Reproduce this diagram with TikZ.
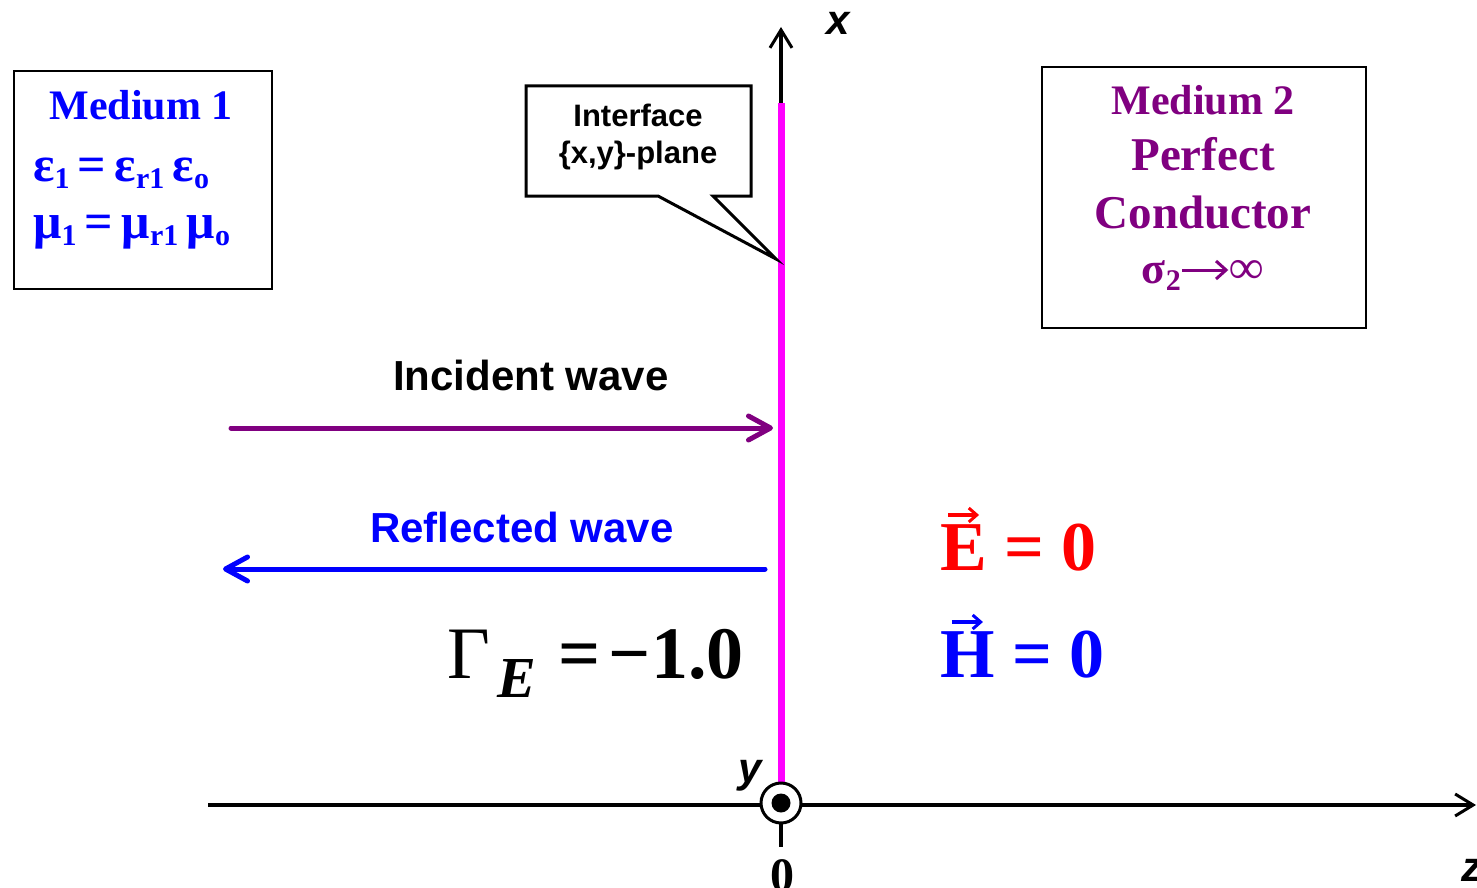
\documentclass[tikz,border=0pt]{standalone}
\usepackage{fontspec}
\setmainfont{Liberation Serif}
\setsansfont{Liberation Sans}
\usetikzlibrary{arrows.meta}
\definecolor{mblue}{RGB}{0,0,255}
\definecolor{mpurple}{RGB}{128,0,128}
\definecolor{mmag}{RGB}{255,0,255}
\definecolor{mred}{RGB}{255,0,0}
\newcommand{\fs}[1]{\fontsize{#1}{#1}\selectfont}
\newcommand{\mysub}[2][30]{{\fs{#1}\raisebox{-7pt}{#2}}}
\newsavebox{\myvbox}
\newcommand{\vecl}[2]{\sbox\myvbox{#2}\rlap{\makebox[\wd\myvbox][c]{\tikz[baseline=0pt]\draw[#1, line width=3.5pt,-{Straight Barb[length=8pt,width=14pt,line width=3pt]}] (0pt,55pt) -- (31pt,55pt);}}\usebox\myvbox}
\newcommand{\longarr}[1]{\tikz[baseline=0pt]\draw[#1, line width=3pt,-{Straight Barb[length=10pt,width=18pt,line width=3pt]}] (0pt,13pt) -- (46pt,13pt);}
\tikzset{
  box/.style={draw=black, line width=2pt, fill=white, inner sep=0pt},
  serifb/.style={font=\bfseries\fs{42}, inner sep=0pt},
  sansb/.style={font=\sffamily\bfseries\fs{42}, inner sep=0pt},
  axlab/.style={font=\sffamily\bfseries\itshape\fs{42}, inner sep=0pt},
  axis/.style={line width=3.5pt, -{Straight Barb[length=18pt,width=22pt,line width=3pt]}},
  wave/.style={line width=5pt, line cap=round, -{Straight Barb[length=22pt,width=24pt,line width=5pt,round]}},
}
\begin{document}
\begin{tikzpicture}[x=1pt, y=-1pt]
\useasboundingbox (0,0) rectangle (1477,888);
% coordinates
\coordinate (O) at (781,803);
\coordinate (xtop) at (781,27);
\coordinate (zl) at (208,805);
\coordinate (zr) at (1476,805);
\coordinate (mtop) at (781,103);
\coordinate (mbot) at (781,785);
\coordinate (tick1) at (781,823);
\coordinate (tick2) at (781,847);
\coordinate (i1) at (231,428);
\coordinate (i2) at (773,428);
\coordinate (r1) at (765,569);
\coordinate (r2) at (223,569);
\coordinate (ptip) at (776,259);

% axes
\draw[axis] (O) -- (xtop);
\draw[axis] (zl) -- (zr);
\draw[mmag, line width=7pt] (mtop) -- (mbot);
\draw[line width=3.5pt] (tick1) -- (tick2);
\node[circle, draw=black, line width=3pt, fill=white, minimum size=40pt, inner sep=0pt] (circ) at (O) {};
\node[circle, fill=black, minimum size=19pt, inner sep=0pt] (dot) at (O) {};

% axis labels
\node[axlab, anchor=base west] (xl) at (826,35) {x};
\node[axlab, anchor=base west] (yl) at (738,782) {y};
\node[axlab, anchor=base west] (zlab) at (1461,881) {z};
\node[font=\bfseries\fs{48}, inner sep=0pt, anchor=base] (zero) at (782,891) {0};

% Medium 1 box
\node[box, minimum width=258pt, minimum height=218pt, anchor=north west] (m1) at (13,70) {};
\node[serifb, text=mblue, anchor=base] (m1t) at (141,120) {Medium 1};
\node[serifb, text=mblue, anchor=base west, font=\bfseries\fs{50}] (eps) at (33,181) {ε\mysub{1}\,=\,ε\mysub{r1}\,ε\mysub{o}};
\node[serifb, text=mblue, anchor=base west, font=\bfseries\fs{50}] (mu) at (33,238) {μ\mysub{1}\,=\,μ\mysub{r1}\,μ\mysub{o}};

% Medium 2 box
\node[box, minimum width=324pt, minimum height=261pt, anchor=north west] (m2) at (1041,66) {};
\node[serifb, text=mpurple, anchor=base] (m2a) at (1203,115) {Medium 2};
\node[serifb, text=mpurple, anchor=base, font=\bfseries\fs{47}] (m2b) at (1203,170) {Perfect};
\node[serifb, text=mpurple, anchor=base, font=\bfseries\fs{47}] (m2c) at (1203,228) {Conductor};
\node[serifb, text=mpurple, anchor=base, font=\bfseries\fs{44}] (m2d) at (1203,283) {σ\mysub{2}\longarr{mpurple}{\fs{48}∞}};

% callout
\draw[line width=3pt, fill=white, line join=miter] (526,86) -- (751,86) -- (751,196) -- (713,196) -- (ptip) -- (658,196) -- (526,196) -- cycle;
\node[sansb, font=\sffamily\bfseries\fs{31}, anchor=base] (if1) at (638,127) {Interface};
\node[sansb, font=\sffamily\bfseries\fs{31}, anchor=base] (if2) at (638,163) {\{x,y\}-plane};

% waves
\node[sansb, anchor=base] (inc) at (531,390) {Incident wave};
\draw[wave, mpurple] (i1) -- (i2);
\node[sansb, text=mblue, anchor=base] (refl) at (522,542) {Reflected wave};
\draw[wave, mblue] (r1) -- (r2);

% Gamma
\node[inner sep=0pt, anchor=base west] (gam) at (447,678) {\fs{74}Γ\hspace{8pt}{\bfseries\itshape\fs{58}\raisebox{-19pt}{E}}\hspace{22pt}{\bfseries =\hspace{8pt}−1.0}};

% fields
\node[inner sep=0pt, anchor=base west, text=mred, font=\bfseries\fs{70}] (ef) at (940,570) {\vecl{mred}{E} = 0};
\node[inner sep=0pt, anchor=base west, text=mblue, font=\bfseries\fs{70}] (hf) at (940,677) {\vecl{mblue}{H} = 0};
\end{tikzpicture}
\end{document}
